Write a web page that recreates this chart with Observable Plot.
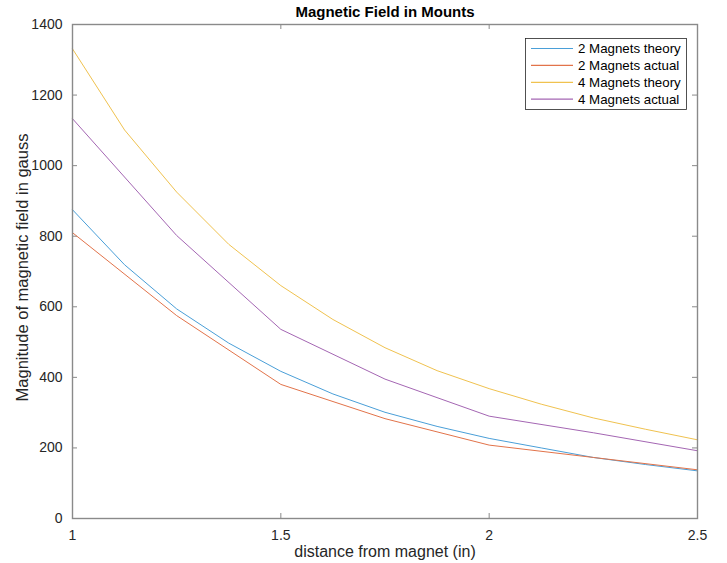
<!DOCTYPE html>
<html>
<head>
<meta charset="utf-8">
<script src="https://cdn.jsdelivr.net/npm/d3@7"></script>
<script src="https://cdn.jsdelivr.net/npm/@observablehq/plot@0.6"></script>
<style>
  html, body { margin: 0; padding: 0; background: #fff; }
  #chart svg { display: block; }
</style>
</head>
<body>
<div id="chart"></div>
<script>
// ---- data ----
const chartTitle = "Magnetic Field in Mounts";
const xLabel = "distance from magnet (in)";
const yLabel = "Magnitude of magnetic field in gauss";

const seriesNames = ["2 Magnets theory", "2 Magnets actual", "4 Magnets theory", "4 Magnets actual"];
const seriesColors = ["#4a9fd8", "#e2734a", "#f0c24f", "#a466b3"];

const xTheory = [1, 1.125, 1.25, 1.375, 1.5, 1.625, 1.75, 1.875, 2, 2.125, 2.25, 2.375, 2.5];
const twoTheory = [875, 719, 594, 497, 417, 353, 301, 261, 227, 200, 173, 153, 135];
const fourTheory = [1331, 1101, 925, 777, 660, 564, 484, 419, 368, 324, 285, 253, 223];

const xActual = [1, 1.25, 1.5, 1.75, 2, 2.25, 2.5];
const twoActual = [810, 575, 380, 283, 208, 173, 138];
const fourActual = [1133, 802, 536, 395, 290, 243, 192];

const xTicks = [1, 1.5, 2, 2.5];
const yTicks = [0, 200, 400, 600, 800, 1000, 1200, 1400];

// ---- build table ----
const seriesX = [xTheory, xActual, xTheory, xActual];
const seriesY = [twoTheory, twoActual, fourTheory, fourActual];
const rows = [];
seriesNames.forEach((name, i) => {
  seriesX[i].forEach((x, j) => rows.push({series: name, x, y: seriesY[i][j]}));
});

const W = 727, H = 563;
const mL = 72, mR = 30, mT = 24, mB = 45;
const axisColor = "#8a8a8a";
const textColor = "#262626";
// tick length of 5 px expressed in data units
const yTick = 5 * (1400 - 0) / (H - mT - mB);
const xTick = 5 * (2.5 - 1) / (W - mL - mR);

const plot = Plot.plot({
  width: W,
  height: H,
  marginLeft: mL,
  marginRight: mR,
  marginTop: mT,
  marginBottom: mB,
  style: {fontFamily: "'Liberation Sans', Arial, Helvetica, sans-serif", fontSize: "14px", color: textColor, background: "#fff"},
  x: {domain: [1, 2.5], ticks: xTicks, tickSize: 0, tickPadding: 12, tickFormat: d => String(d), label: null},
  y: {domain: [0, 1400], ticks: yTicks, tickSize: 0, tickPadding: 10, tickFormat: d => String(d), label: null},
  color: {domain: seriesNames, range: seriesColors},
  marks: [
    // inward ticks on all four sides
    Plot.ruleX(xTicks.slice(1, -1), {y1: 0, y2: yTick, stroke: axisColor, strokeWidth: 1}),
    Plot.ruleX(xTicks.slice(1, -1), {y1: 1400, y2: 1400 - yTick, stroke: axisColor, strokeWidth: 1}),
    Plot.ruleY(yTicks.slice(1, -1), {x1: 1, x2: 1 + xTick, stroke: axisColor, strokeWidth: 1}),
    Plot.ruleY(yTicks.slice(1, -1), {x1: 2.5, x2: 2.5 - xTick, stroke: axisColor, strokeWidth: 1}),
    Plot.line(rows, {x: "x", y: "y", z: "series", stroke: "series", strokeWidth: 1}),
    Plot.frame({stroke: axisColor, strokeWidth: 1.4}),
    Plot.text([chartTitle], {frameAnchor: "top", lineAnchor: "middle", dy: -12, fontWeight: "bold", fontSize: 15, fill: "#000"}),
    Plot.text([xLabel], {frameAnchor: "bottom", lineAnchor: "middle", dy: 33, fontSize: 16, fill: textColor}),
    Plot.text([yLabel], {frameAnchor: "left", textAnchor: "middle", lineAnchor: "middle", dx: -50, dy: -4, rotate: -90, fontSize: 16.5, fill: textColor})
  ]
});

document.getElementById("chart").appendChild(plot);

// ---- legend (MATLAB style box, top-right inside axes) ----
const svg = d3.select(plot);
const lg = svg.append("g").attr("transform", `translate(${W - mR - 172},${mT + 14})`)
  .attr("text-anchor", "start");
const lgW = 161, rowH = 16.9, lgH = 71;
lg.append("rect").attr("x", 0.5).attr("y", 0.5).attr("width", lgW).attr("height", lgH)
  .attr("fill", "#fff").attr("stroke", "#262626").attr("stroke-width", 0.8);
seriesNames.forEach((name, i) => {
  const cy = 10.5 + i * rowH;
  lg.append("line").attr("x1", 6).attr("x2", 48).attr("y1", cy).attr("y2", cy)
    .attr("stroke", seriesColors[i]).attr("stroke-width", 1.2);
  lg.append("text").attr("x", 53).attr("y", cy).attr("dy", "0.35em")
    .attr("text-anchor", "start").attr("font-size", 13.3).attr("fill", "#000").text(name);
});
</script>
</body>
</html>
